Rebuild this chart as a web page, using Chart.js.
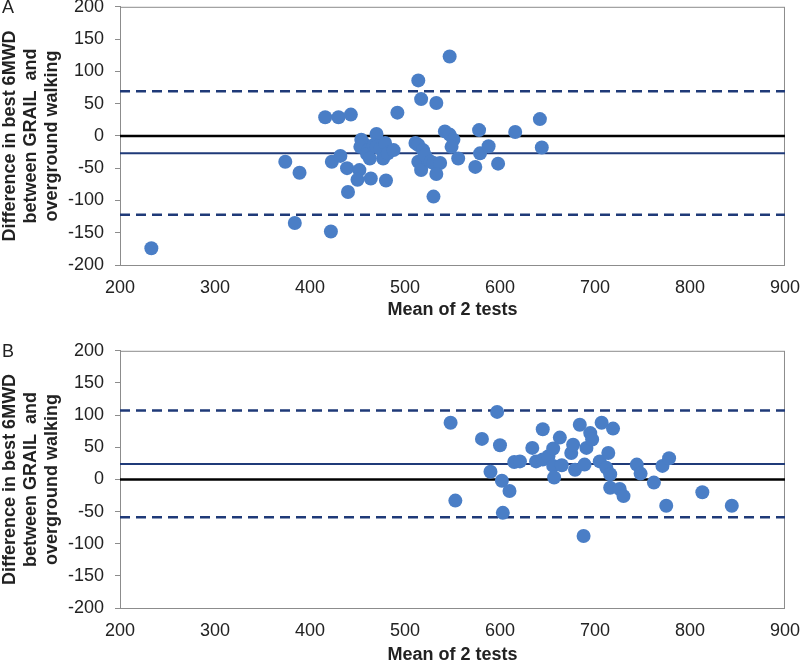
<!DOCTYPE html>
<html>
<head>
<meta charset="utf-8">
<script src="https://cdn.jsdelivr.net/npm/chart.js@4.4.0/dist/chart.umd.min.js"></script>
<style>
body { margin: 0; background: #fff; width: 800px; height: 664px; position: relative; overflow: hidden; font-family: "Liberation Sans", Arial, sans-serif; }
.wrap { position: absolute; left: 0; width: 812px; }
.lbl { position: absolute; left: 2px; font-size: 18px; color: #222; z-index: 2; }
</style>
</head>
<body>

<div class="wrap" style="top:-15px;height:347px"><canvas id="chartA" width="812" height="347"></canvas></div>
<div class="wrap" style="top:329px;height:335px"><canvas id="chartB" width="812" height="335"></canvas></div>
<div class="lbl" style="top:-3px">A</div>
<div class="lbl" style="top:341px">B</div>

<script>
// Panel A: mean of 2 tests vs difference
const meanA = [233, 374, 389, 384, 422, 416, 430, 443, 423, 432, 439, 440, 452, 450, 464, 480,
    470, 454, 456, 453, 461, 460, 463, 467, 470, 474, 479, 477, 482, 488, 492,
    511, 514, 519, 514, 517, 524, 521, 527, 530, 537, 533, 530, 514, 517, 533, 547,
    542, 547, 551, 549, 556, 574, 578, 579, 588, 598, 616, 642, 644];
const diffA = [-174, -40, -57, -135, -148, 29, 29, 33, -40, -31, -50, -87, -53, -68, -66, -69,
    3, -6, -11, -17, -22, -28, -35, -14, -17, -20, -11, -35, -27, -22, 36,
    -11, -14, -22, -40, -53, -37, -30, -40, -42, -42, -59, -94, 86, 57, 51, 123,
    7, 2, -6, -17, -35, -48, 9, -27, -16, -43, 6, 26, -18];
// zero, bias, upper and lower limits of agreement
const levelsA = [0, -27, 69, -122];

// Panel B
const meanB = [548, 553, 581, 590, 597, 600, 602, 603, 610, 615, 621, 634, 638, 645, 645, 651,
    656, 656, 657, 663, 665, 675, 677, 679, 684, 689, 691, 695, 697, 688, 705, 707,
    712, 714, 716, 716, 719, 726, 730, 744, 748, 762, 771, 778, 775, 813, 844];
const diffB = [88, -33, 63, 12, 105, 53, -2, -52, -18, 27, 28, 49, 28, 78, 31, 36,
    48, 21, 3, 65, 22, 41, 54, 15, 85, 23, 49, 72, 62, -88, 28, 88,
    18, 41, 8, -13, 79, -15, -26, 23, 9, -5, 21, 33, -41, -20, -41];
const levelsB = [0, 24, 107, -59];

const xEnds = [200, 900];
const yTitle = ["Difference in best 6MWD", "between GRAIL  and", "overground walking"];

const navy = "#1F3A78";

// box round the plot area
const boxPlugin = {
    id: "box",
    beforeDatasetsDraw(chart) {
        const a = chart.chartArea;
        const ctx = chart.ctx;
        ctx.save();
        ctx.strokeStyle = "#8c8c8c";
        ctx.lineWidth = 1;
        ctx.strokeRect(a.left + 0.5, a.top + 0.5, a.right - a.left - 1, a.bottom - a.top);
        ctx.restore();
    }
};

function hLine(y, color, width, dash) {
    return {
        type: "line",
        data: xEnds.map(x => ({ x: x, y: y })),
        borderColor: color,
        borderWidth: width,
        borderDash: dash,
        pointRadius: 0,
        order: 2
    };
}

function makeChart(id, means, diffs, levels, xAxisHeight, titlePad) {
    new Chart(document.getElementById(id), {
        type: "scatter",
        data: {
            datasets: [
                {
                    data: means.map((m, i) => ({ x: m, y: diffs[i] })),
                    backgroundColor: "#4A7EC6",
                    borderWidth: 0,
                    pointRadius: 7,
                    order: 1
                },
                hLine(levels[0], "#000000", 2.5, []),
                hLine(levels[1], navy, 2, []),
                hLine(levels[2], navy, 2.5, [10, 6]),
                hLine(levels[3], navy, 2.5, [10, 6])
            ]
        },
        options: {
            responsive: false,
            animation: false,
            layout: { autoPadding: false, padding: 0 },
            plugins: { legend: { display: false }, tooltip: { enabled: false } },
            scales: {
                x: {
                    type: "linear",
                    min: 200,
                    max: 900,
                    ticks: { stepSize: 100, color: "#222", font: { size: 18 }, padding: 12 },
                    grid: { display: false, drawTicks: false },
                    border: { color: "#8c8c8c" },
                    title: {
                        display: true,
                        text: "Mean of 2 tests",
                        color: "#222",
                        font: { size: 18, weight: "bold", lineHeight: 1 },
                        padding: { top: 0, bottom: titlePad }
                    },
                    afterFit: s => { s.height = xAxisHeight; }
                },
                y: {
                    min: -200,
                    max: 200,
                    ticks: { stepSize: 50, color: "#222", font: { size: 18 }, padding: 11 },
                    grid: { drawOnChartArea: false, tickLength: 5, color: "#8c8c8c" },
                    border: { color: "#8c8c8c" },
                    title: {
                        display: true,
                        text: yTitle,
                        color: "#222",
                        font: { size: 18, weight: "bold", lineHeight: 1.15 },
                        padding: { top: 0, bottom: 0 }
                    },
                    afterFit: s => { s.width = 120; }
                }
            }
        },
        plugins: [boxPlugin]
    });
}

makeChart("chartA", meanA, diffA, levelsA, 67, 13);
makeChart("chartB", meanB, diffB, levelsB, 56, 0);
</script>
</body>
</html>
